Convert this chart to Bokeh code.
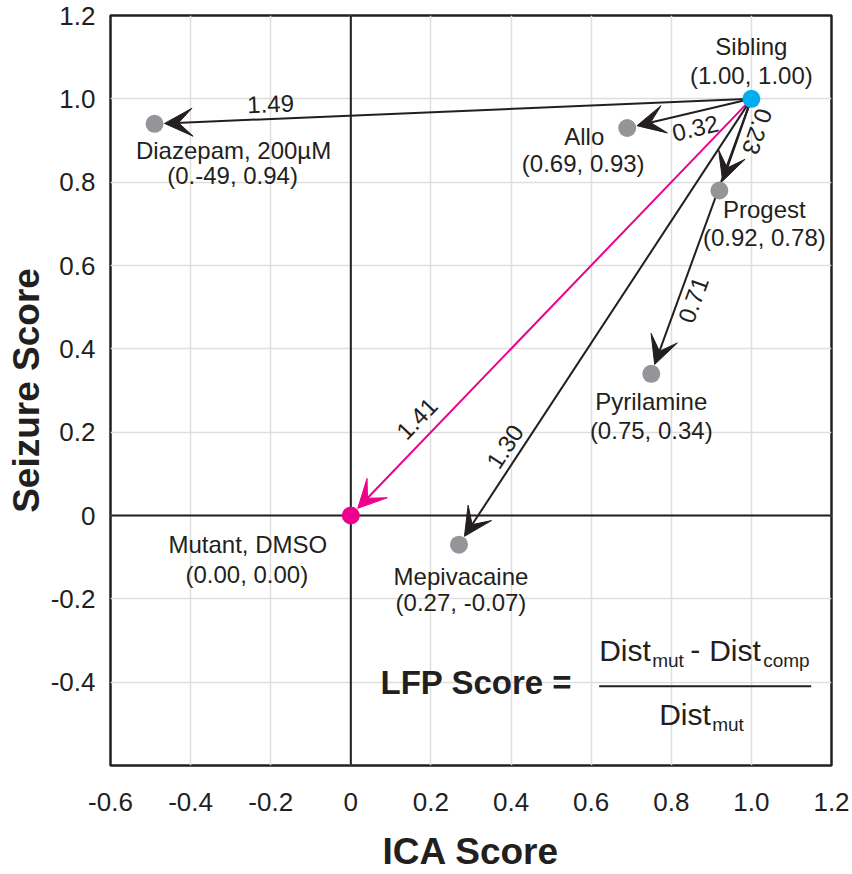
import math

from bokeh.core.properties import value
from bokeh.embed import file_html
from bokeh.models import Arrow, ColumnDataSource, FixedTicker, Span, VeeHead
from bokeh.plotting import figure
from bokeh.resources import INLINE

# Treatments placed in ICA score / seizure score space
treatments = ["Sibling", "Mutant, DMSO", "Diazepam, 200µM", "Allo",
              "Progest", "Pyrilamine", "Mepivacaine"]
ica_score = [1.00, 0.00, -0.49, 0.69, 0.92, 0.75, 0.27]
seizure_score = [1.00, 0.00, 0.94, 0.93, 0.78, 0.34, -0.07]
coord_text = ["(1.00, 1.00)", "(0.00, 0.00)", "(0.-49, 0.94)", "(0.69, 0.93)",
              "(0.92, 0.78)", "(0.75, 0.34)", "(0.27, -0.07)"]

# Distance of each treatment from the sibling reference
arrow_source = "Sibling"
arrow_targets = ["Diazepam, 200µM", "Allo", "Progest", "Mutant, DMSO",
                 "Mepivacaine", "Pyrilamine"]
arrow_distance = ["1.49", "0.32", "0.23", "1.41", "1.30", "0.71"]

x_ticks = [-0.6, -0.4, -0.2, 0.0, 0.2, 0.4, 0.6, 0.8, 1.0, 1.2]
x_tick_labels = ["-0.6", "-0.4", "-0.2", "0", "0.2", "0.4", "0.6", "0.8", "1.0", "1.2"]
y_ticks = [-0.4, -0.2, 0.0, 0.2, 0.4, 0.6, 0.8, 1.0, 1.2]
y_tick_labels = ["-0.4", "-0.2", "0", "0.2", "0.4", "0.6", "0.8", "1.0", "1.2"]

# ---- styling ---------------------------------------------------------------
INK = "#231f20"
GREY = "#939598"
BLUE = "#00aeef"
MAGENTA = "#ec008c"
FONT = "Liberation Sans"

point_color = [BLUE, MAGENTA, GREY, GREY, GREY, GREY, GREY]
name_offset = [(0, -52), (-103, 29), (79, 27), (-43, 8), (45, 19), (0, 28), (2, 32)]
coord_offset = [(0, -23), (-104, 59), (78, 52), (-44, 35), (45, 47), (0, 57), (2, 58)]
arrow_color = [INK, INK, INK, MAGENTA, INK, INK]
dist_offset = [(116, -20), (68, 0), (38, -59), (66, -97), (46, -98), (42, -74)]
dist_flip = [False, False, True, False, False, False]

W, H = 852, 874
BL, BR, BT, BB = 110, 21, 15, 107
X_RANGE = (-0.6, 1.2)
Y_RANGE = (-0.6, 1.2)
sx = (W - BL - BR) / (X_RANGE[1] - X_RANGE[0])   # px per data unit
sy = (H - BT - BB) / (Y_RANGE[1] - Y_RANGE[0])
TIP_GAP = 10  # px between arrow tip and marker centre

p = figure(width=W, height=H, x_range=X_RANGE, y_range=Y_RANGE,
           output_backend="svg", toolbar_location=None,
           min_border_left=BL, min_border_right=BR,
           min_border_top=BT, min_border_bottom=BB)
p.background_fill_color = "white"
p.border_fill_color = "white"
p.outline_line_color = INK
p.outline_line_width = 2.5

# grid
p.xgrid.ticker = FixedTicker(ticks=x_ticks)
p.ygrid.ticker = FixedTicker(ticks=y_ticks)
for g in (p.xgrid, p.ygrid):
    g.grid_line_color = "#dedede"
    g.grid_line_width = 1.5

# axes
p.xaxis.ticker = FixedTicker(ticks=x_ticks)
p.yaxis.ticker = FixedTicker(ticks=y_ticks)
p.xaxis.major_label_overrides = dict(zip(x_ticks, x_tick_labels))
p.yaxis.major_label_overrides = dict(zip(y_ticks, y_tick_labels))
p.xaxis.axis_label = "ICA Score"
p.yaxis.axis_label = "Seizure Score"
for ax in (p.xaxis[0], p.yaxis[0]):
    ax.axis_line_color = None
    ax.major_tick_line_color = None
    ax.minor_tick_line_color = None
    ax.major_label_text_font = FONT
    ax.major_label_text_font_size = "26px"
    ax.major_label_text_color = INK
    ax.axis_label_text_font = FONT
    ax.axis_label_text_font_size = "37px"
    ax.axis_label_text_font_style = "bold"
    ax.axis_label_text_color = INK
p.xaxis.major_label_standoff = 21
p.xaxis.axis_label_standoff = 17
p.yaxis.major_label_standoff = 9
p.yaxis.axis_label_standoff = 1

# zero lines
for dim in ("height", "width"):
    p.add_layout(Span(location=0, dimension=dim, line_color=INK,
                      line_width=2, level="underlay"))

# arrows from the sibling reference
lookup = {n: (x, y) for n, x, y in zip(treatments, ica_score, seizure_score)}
x0, y0 = lookup[arrow_source]
lbl_x, lbl_y, lbl_dx, lbl_dy, lbl_ang = [], [], [], [], []
for tgt, col, off, flip in zip(arrow_targets, arrow_color, dist_offset, dist_flip):
    x1, y1 = lookup[tgt]
    dxp, dyp = (x1 - x0) * sx, (y1 - y0) * sy
    L = math.hypot(dxp, dyp)
    f = 1 - TIP_GAP / L
    p.add_layout(Arrow(x_start=x0, y_start=y0,
                       x_end=x0 + f * (x1 - x0), y_end=y0 + f * (y1 - y0),
                       line_color=col, line_width=2, level="underlay",
                       end=VeeHead(size=28, fill_color=col, line_color=col,
                                   line_width=1)))
    ang = math.atan2(-dyp, -dxp)
    if flip:
        ang -= math.pi
    lbl_x.append(x1)
    lbl_y.append(y1)
    lbl_dx.append(off[0])
    lbl_dy.append(off[1])
    lbl_ang.append(ang)

dist_src = ColumnDataSource(dict(x=lbl_x, y=lbl_y, t=arrow_distance,
                                 dx=lbl_dx, dy=lbl_dy, a=lbl_ang))
p.text("x", "y", text="t", source=dist_src, x_offset="dx", y_offset="dy",
       angle="a", text_align="center", text_baseline="middle",
       text_font=value(FONT), text_font_size="24px", text_color=INK)

# treatment markers and their labels
pts = ColumnDataSource(dict(
    x=ica_score, y=seizure_score, c=point_color, name=treatments, coord=coord_text,
    ndx=[o[0] for o in name_offset], ndy=[o[1] for o in name_offset],
    cdx=[o[0] for o in coord_offset], cdy=[o[1] for o in coord_offset]))
p.scatter("x", "y", source=pts, size=18, fill_color="c", line_color=None)
p.text("x", "y", text="name", source=pts, x_offset="ndx", y_offset="ndy",
       text_align="center", text_baseline="middle", text_font=value(FONT),
       text_font_size="24px", text_color=INK)
p.text("x", "y", text="coord", source=pts, x_offset="cdx", y_offset="cdy",
       text_align="center", text_baseline="middle", text_font=value(FONT),
       text_font_size="24px", text_color=INK)

# LFP score formula
fx, fy = 0.62, -0.41
frac_w = 212 / sx
p.segment(x0=[fx], y0=[fy], x1=[fx + frac_w], y1=[fy], line_color=INK, line_width=2)
formula_parts = [
    ("LFP Score =", -27, -4, "33px", "bold", "right"),
    ("Dist", 0, -36, "30px", "normal", "left"),
    ("mut", 53, -26, "19px", "normal", "left"),
    ("-", 96, -36, "30px", "normal", "center"),
    ("Dist", 110, -36, "30px", "normal", "left"),
    ("comp", 164, -26, "19px", "normal", "left"),
    ("Dist", 60, 28, "30px", "normal", "left"),
    ("mut", 113, 38, "19px", "normal", "left"),
]
for txt, ox, oy, size, style, align in formula_parts:
    p.text(x=[fx], y=[fy], text=[txt], x_offset=ox, y_offset=oy,
           text_align=align, text_baseline="alphabetic", text_font=value(FONT),
           text_font_size=size, text_font_style=style, text_color=INK)

open("out.html", "w").write(file_html(p, INLINE))
